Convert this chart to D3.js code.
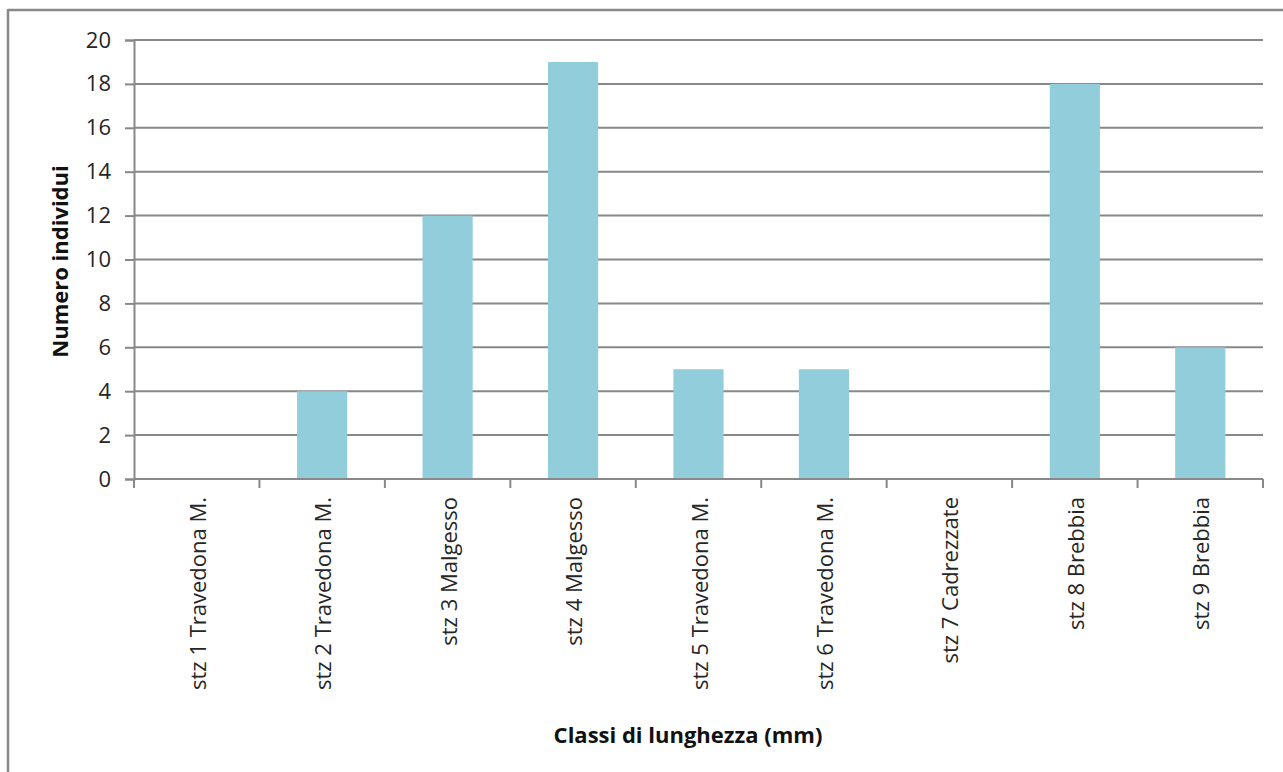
<!DOCTYPE html>
<html>
<head>
<meta charset="utf-8">
<script src="https://cdn.jsdelivr.net/npm/d3@7"></script>
<style>
  html, body { margin: 0; padding: 0; background: #fff; }
  svg { display: block; font-family: "Open Sans", Lato, sans-serif; }
</style>
</head>
<body>
<svg id="chart" width="1283" height="772"></svg>
<script>
// Stations sampled and number of individuals counted at each
const categories = [
  "stz 1 Travedona M.", "stz 2 Travedona M.", "stz 3 Malgesso", "stz 4 Malgesso",
  "stz 5 Travedona M.", "stz 6 Travedona M.", "stz 7 Cadrezzate", "stz 8 Brebbia", "stz 9 Brebbia"
];
const values = [0, 4, 12, 19, 5, 5, 0, 18, 6];
const yTicks = [0, 2, 4, 6, 8, 10, 12, 14, 16, 18, 20];
const yTitle = "Numero individui";
const xTitle = "Classi di lunghezza (mm)";

const svg = d3.select("#chart");
const W = 1283, H = 772;
const grid = "#888888";
const fs = 22;

// outer frame (top and left edges visible)
svg.append("line").attr("x1", 8).attr("x2", W + 2).attr("y1", 10).attr("y2", 10)
  .attr("stroke", grid).attr("stroke-width", 2.5);
svg.append("line").attr("x1", 8).attr("x2", 8).attr("y1", 9).attr("y2", H + 2)
  .attr("stroke", grid).attr("stroke-width", 2.5);

const plot = { left: 134, right: 1263, top: 40, bottom: 479 };

const x = d3.scaleBand().domain(categories).range([plot.left, plot.right])
  .paddingInner(0.6).paddingOuter(0.3);
const xOuter = d3.scaleBand().domain(categories).range([plot.left, plot.right]);
const y = d3.scaleLinear().domain([0, 20]).range([plot.bottom, plot.top]);

// horizontal gridlines
svg.append("g").selectAll("line").data(yTicks.filter(d => d > 0)).join("line")
  .attr("x1", plot.left).attr("x2", plot.right)
  .attr("y1", d => y(d)).attr("y2", d => y(d))
  .attr("stroke", grid).attr("stroke-width", 2);

// bars
svg.append("g").selectAll("rect").data(values).join("rect")
  .attr("x", (d, i) => x(categories[i]))
  .attr("width", x.bandwidth())
  .attr("y", d => y(d))
  .attr("height", d => plot.bottom - y(d))
  .attr("fill", "#92CDDC");

// y axis
const yAxis = svg.append("g").attr("transform", `translate(${plot.left},0)`)
  .call(d3.axisLeft(y).tickValues(yTicks).tickSize(9).tickPadding(14));
yAxis.select(".domain").attr("stroke", grid).attr("stroke-width", 2);
yAxis.selectAll(".tick line").attr("stroke", grid).attr("stroke-width", 2);
yAxis.selectAll(".tick text").attr("font-size", fs).attr("fill", "#262626")
  .attr("font-family", "'Open Sans', sans-serif");

// x axis baseline and category boundary ticks
const xAxisG = svg.append("g");
xAxisG.append("line").attr("x1", plot.left).attr("x2", plot.right)
  .attr("y1", plot.bottom).attr("y2", plot.bottom).attr("stroke", grid).attr("stroke-width", 2);
const bounds = categories.map(c => xOuter(c)).concat([plot.right]);
xAxisG.selectAll("line.tk").data(bounds).join("line").attr("class", "tk")
  .attr("x1", d => d).attr("x2", d => d)
  .attr("y1", plot.bottom).attr("y2", plot.bottom + 9)
  .attr("stroke", grid).attr("stroke-width", 2);

// rotated category labels
xAxisG.selectAll("text").data(categories).join("text")
  .attr("transform", d => `translate(${xOuter(d) + xOuter.bandwidth() / 2 + 9},497) rotate(-90)`)
  .attr("text-anchor", "end")
  .attr("font-size", fs).attr("fill", "#262626")
  .text(d => d);

// axis titles
svg.append("text")
  .attr("transform", `translate(68,${(plot.top + plot.bottom) / 2 + 2}) rotate(-90)`)
  .attr("text-anchor", "middle").attr("font-weight", "bold")
  .attr("font-size", fs).attr("fill", "#111")
  .text(yTitle);
svg.append("text")
  .attr("x", 688).attr("y", 743)
  .attr("text-anchor", "middle").attr("font-weight", "bold")
  .attr("font-size", fs).attr("fill", "#111")
  .text(xTitle);
</script>
</body>
</html>
